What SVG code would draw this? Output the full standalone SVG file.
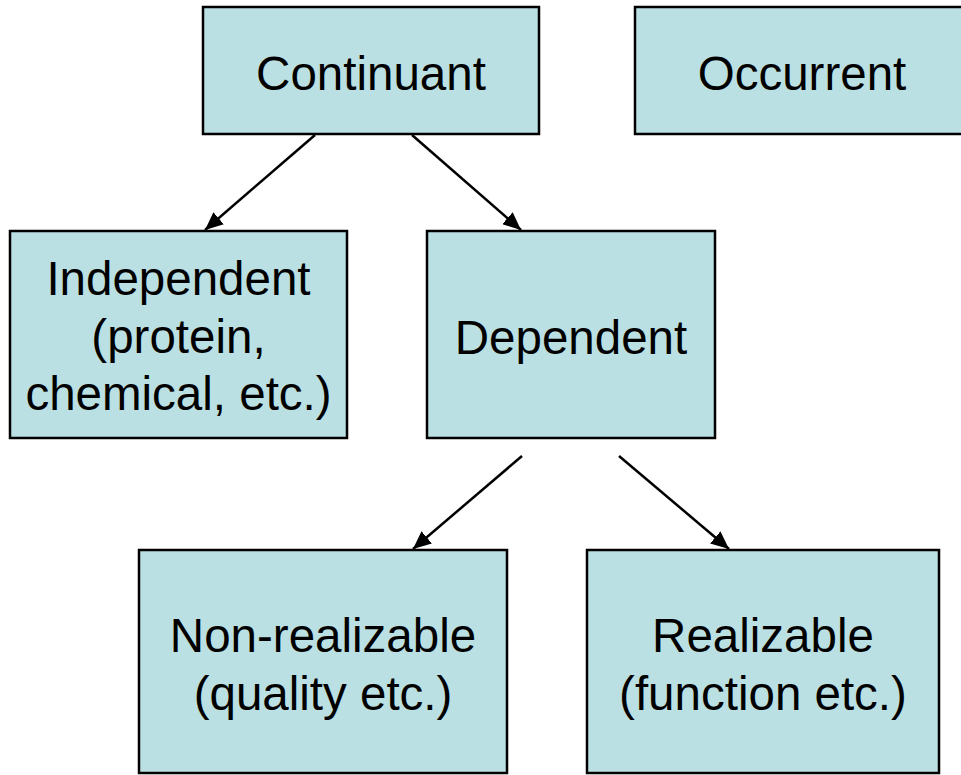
<svg xmlns="http://www.w3.org/2000/svg" width="961" height="775" viewBox="0 0 961 775">
<style>
.box{fill:#BBE0E3;stroke:#000;stroke-width:2.5}
.t{font-family:"Liberation Sans",Arial,sans-serif;font-size:47.5px;fill:#000;text-anchor:middle}
.c{stroke:#000;stroke-width:2.5;fill:none;marker-end:url(#ah)}
</style>
<defs>
<marker id="ah" markerUnits="userSpaceOnUse" markerWidth="20" markerHeight="16" refX="18" refY="8" orient="auto">
<path d="M0,0 L18,8 L0,16 z" fill="#000"/>
</marker>
</defs>
<rect width="961" height="775" fill="#fff"/>
<g id="continuant"><rect class="box" x="203" y="7" width="336" height="127"/><text class="t" x="371" y="90">Continuant</text></g>
<g id="occurrent"><rect class="box" x="635" y="7" width="330" height="127"/><text class="t" x="802" y="90">Occurrent</text></g>
<g id="independent"><rect class="box" x="10" y="231" width="337" height="207"/><text class="t" x="178.5" y="295">Independent</text><text class="t" x="178.5" y="353">(protein, </text><text class="t" x="178.5" y="410">chemical, etc.)</text></g>
<g id="dependent"><rect class="box" x="427" y="231" width="288" height="207"/><text class="t" x="571" y="354">Dependent</text></g>
<g id="nonrealizable"><rect class="box" x="139" y="550" width="368" height="223"/><text class="t" x="323" y="652">Non-realizable</text><text class="t" x="323" y="710">(quality etc.)</text></g>
<g id="realizable"><rect class="box" x="587" y="550" width="352" height="223"/><text class="t" x="763" y="652">Realizable</text><text class="t" x="763" y="710">(function etc.)</text></g>
<g id="connectors">
<line class="c" x1="315" y1="135" x2="205" y2="230"/>
<line class="c" x1="412" y1="135" x2="521" y2="230"/>
<line class="c" x1="522" y1="456" x2="413" y2="549"/>
<line class="c" x1="619" y1="456" x2="729" y2="549"/>
</g>
</svg>
